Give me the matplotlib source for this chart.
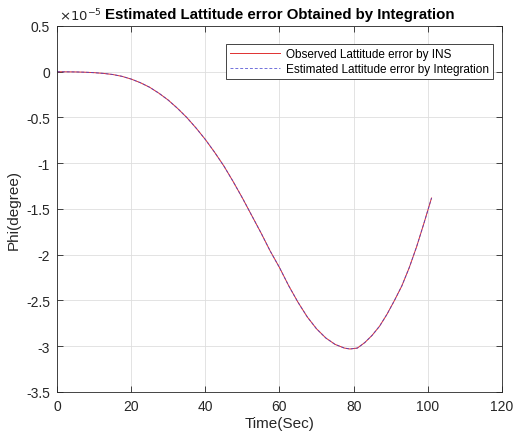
"""Recreate the latitude error comparison chart (INS vs integration)."""

import matplotlib
matplotlib.use("Agg")
import matplotlib.pyplot as plt
from matplotlib.ticker import FuncFormatter

# values, in units of 1e-5 degree
time_sec = [0, 5, 7.5, 10, 12.5, 15, 17.5, 20, 22.5, 25, 27.5, 30, 32.5, 35,
            37.5, 40, 42.5, 45, 47.5, 50, 52.5, 55, 57.5, 60, 62.5, 65, 67.5,
            70, 72.5, 75, 77.5, 79, 81, 83, 85, 87, 89, 91, 93, 95, 97, 99,
            101]
phi_observed = [0, -0.002, -0.005, -0.01, -0.018, -0.03, -0.05, -0.08, -0.12,
                -0.17, -0.235, -0.31, -0.40, -0.50, -0.615, -0.74, -0.88,
                -1.03, -1.20, -1.38, -1.57, -1.76, -1.96, -2.14, -2.34, -2.52,
                -2.68, -2.81, -2.91, -2.98, -3.02, -3.03, -3.02, -2.96, -2.88,
                -2.78, -2.65, -2.50, -2.34, -2.14, -1.91, -1.65, -1.38]
phi_estimated = list(phi_observed)
scale = 1e-5

y_ticks = [0.5, 0, -0.5, -1, -1.5, -2, -2.5, -3, -3.5]
x_ticks = [0, 20, 40, 60, 80, 100, 120]

plt.rcParams["font.family"] = ["Liberation Sans", "DejaVu Sans"]
axis_color = "#262626"

fig = plt.figure(figsize=(5.15, 4.39), dpi=100)
ax = fig.add_axes([0.1107, 0.1048, 0.864, 0.8337])

ax.plot(time_sec, [v * scale for v in phi_observed], color="#e03030",
        linewidth=0.7, label="Observed Lattitude error by INS")
ax.plot(time_sec, [v * scale for v in phi_estimated], color="#4040d0",
        linewidth=0.7, alpha=0.75, linestyle=(0, (3, 2)),
        label="Estimated Lattitude error by Integration")

ax.set_xlim(0, 120)
ax.set_ylim(-3.5 * scale, 0.5 * scale)
ax.set_xticks(x_ticks)
ax.set_yticks([v * scale for v in y_ticks])
ax.yaxis.set_major_formatter(FuncFormatter(lambda v, pos: f"{v / scale:g}"))

ax.grid(True, color="#dedede", linewidth=0.6)
ax.set_axisbelow(True)
ax.tick_params(direction="in", top=True, right=True, length=4, width=0.6,
               labelsize=10, colors=axis_color, pad=5)
for spine in ax.spines.values():
    spine.set_color(axis_color)
    spine.set_linewidth(0.6)

ax.set_xlabel("Time(Sec)", fontsize=11, color=axis_color, labelpad=2)
ax.set_ylabel("Phi(degree)", fontsize=11, color=axis_color, labelpad=4)
ax.set_title("Estimated Lattitude error Obtained by Integration",
             fontsize=10.8, fontweight="bold", color="black", pad=6)
ax.text(0.005, 1.008, r"$\times10^{-5}$", transform=ax.transAxes,
        fontsize=9.5, color=axis_color, ha="left", va="bottom")

leg = ax.legend(loc="upper right", bbox_to_anchor=(0.98, 0.95), fontsize=8.5,
                fancybox=False, framealpha=1, edgecolor=axis_color,
                handlelength=4.2, handletextpad=0.5, borderpad=0.35,
                labelspacing=0.2, borderaxespad=0)
leg.get_frame().set_linewidth(0.6)

fig.savefig("out.png", dpi=100)
